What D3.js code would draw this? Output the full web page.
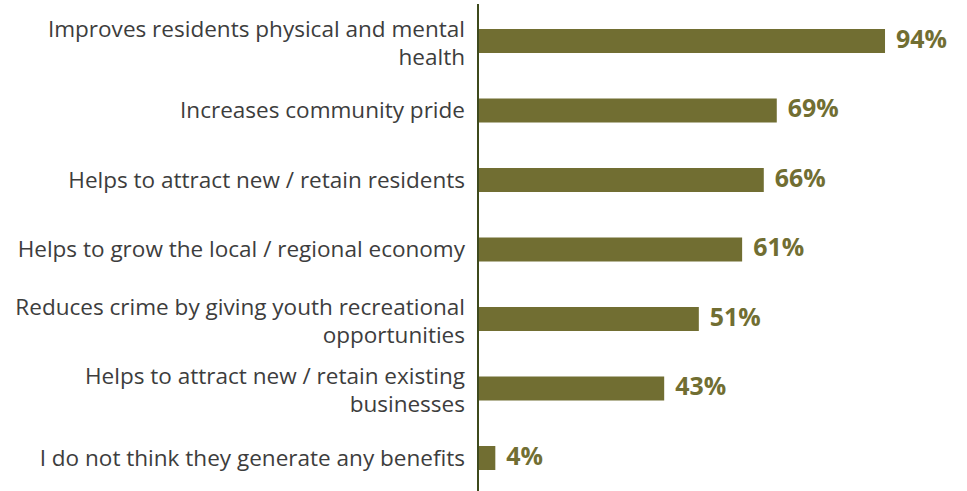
<!DOCTYPE html>
<html><head><meta charset="utf-8">
<script src="https://cdn.jsdelivr.net/npm/d3@7"></script>
<style>body{margin:0;background:#fff;}svg{display:block;}</style>
</head><body>
<svg id="c" width="967" height="491"></svg>
<script>
const categories = [
  ["Improves residents physical and mental", "health"],
  ["Increases community pride"],
  ["Helps to attract new / retain residents"],
  ["Helps to grow the local / regional economy"],
  ["Reduces crime by giving youth recreational", "opportunities"],
  ["Helps to attract new / retain existing", "businesses"],
  ["I do not think they generate any benefits"]
];
const values = [94, 69, 66, 61, 51, 43, 4];

const svg = d3.select("#c");
const x0 = 478;
const x = d3.scaleLinear().domain([0, 100]).range([x0, x0 + 433]);
const y = d3.scaleBand().domain(d3.range(values.length)).range([6.25, 492.75]);
const barH = 24;
const barColor = "#716e32";
const font = "'Open Sans', sans-serif";

svg.selectAll("rect.bar").data(values).join("rect")
  .attr("class", "bar")
  .attr("x", x(0))
  .attr("y", (d, i) => y(i) + y.bandwidth() / 2 - barH / 2)
  .attr("width", d => x(d) - x(0))
  .attr("height", barH)
  .attr("fill", barColor);

const vals = svg.selectAll("text.val").data(values).join("text")
  .attr("class", "val")
  .attr("x", d => x(d) + 11)
  .attr("y", (d, i) => y(i) + y.bandwidth() / 2)
  .attr("dy", "0.28em")
  .attr("font-family", font)
  .attr("font-weight", "bold")
  .attr("font-size", 23)
  .attr("fill", barColor)
  .text(d => d + "%");
// fit "94%" to ~51px width
const vw = vals.node().getComputedTextLength();
vals.attr("font-size", Math.min(26, 23 * 51 / vw));

const lh = 28;
const rows = svg.selectAll("g.cat").data(categories).join("g").attr("class", "cat");
const lab = rows.selectAll("text")
  .data((lines, i) => lines.map((l, k) => ({ l, k, n: lines.length, i })))
  .join("text")
  .attr("text-anchor", "end")
  .attr("font-family", font)
  .attr("font-size", 20)
  .attr("fill", "#3d3d3d")
  .attr("x", 465)
  .attr("y", d => y(d.i) + y.bandwidth() / 2 + (d.n > 1 ? 2 : 0) + (d.k - (d.n - 1) / 2) * lh)
  .attr("dy", "0.35em")
  .text(d => d.l);
// fit widest label line to reference width (~450px)
let maxW = 0;
lab.each(function() { maxW = Math.max(maxW, this.getComputedTextLength()); });
lab.attr("font-size", 20 * 450 / maxW);

svg.append("line")
  .attr("x1", x0).attr("x2", x0)
  .attr("y1", 4).attr("y2", 491)
  .attr("stroke", "#3e4a1c").attr("stroke-width", 2);
</script>
</body></html>
